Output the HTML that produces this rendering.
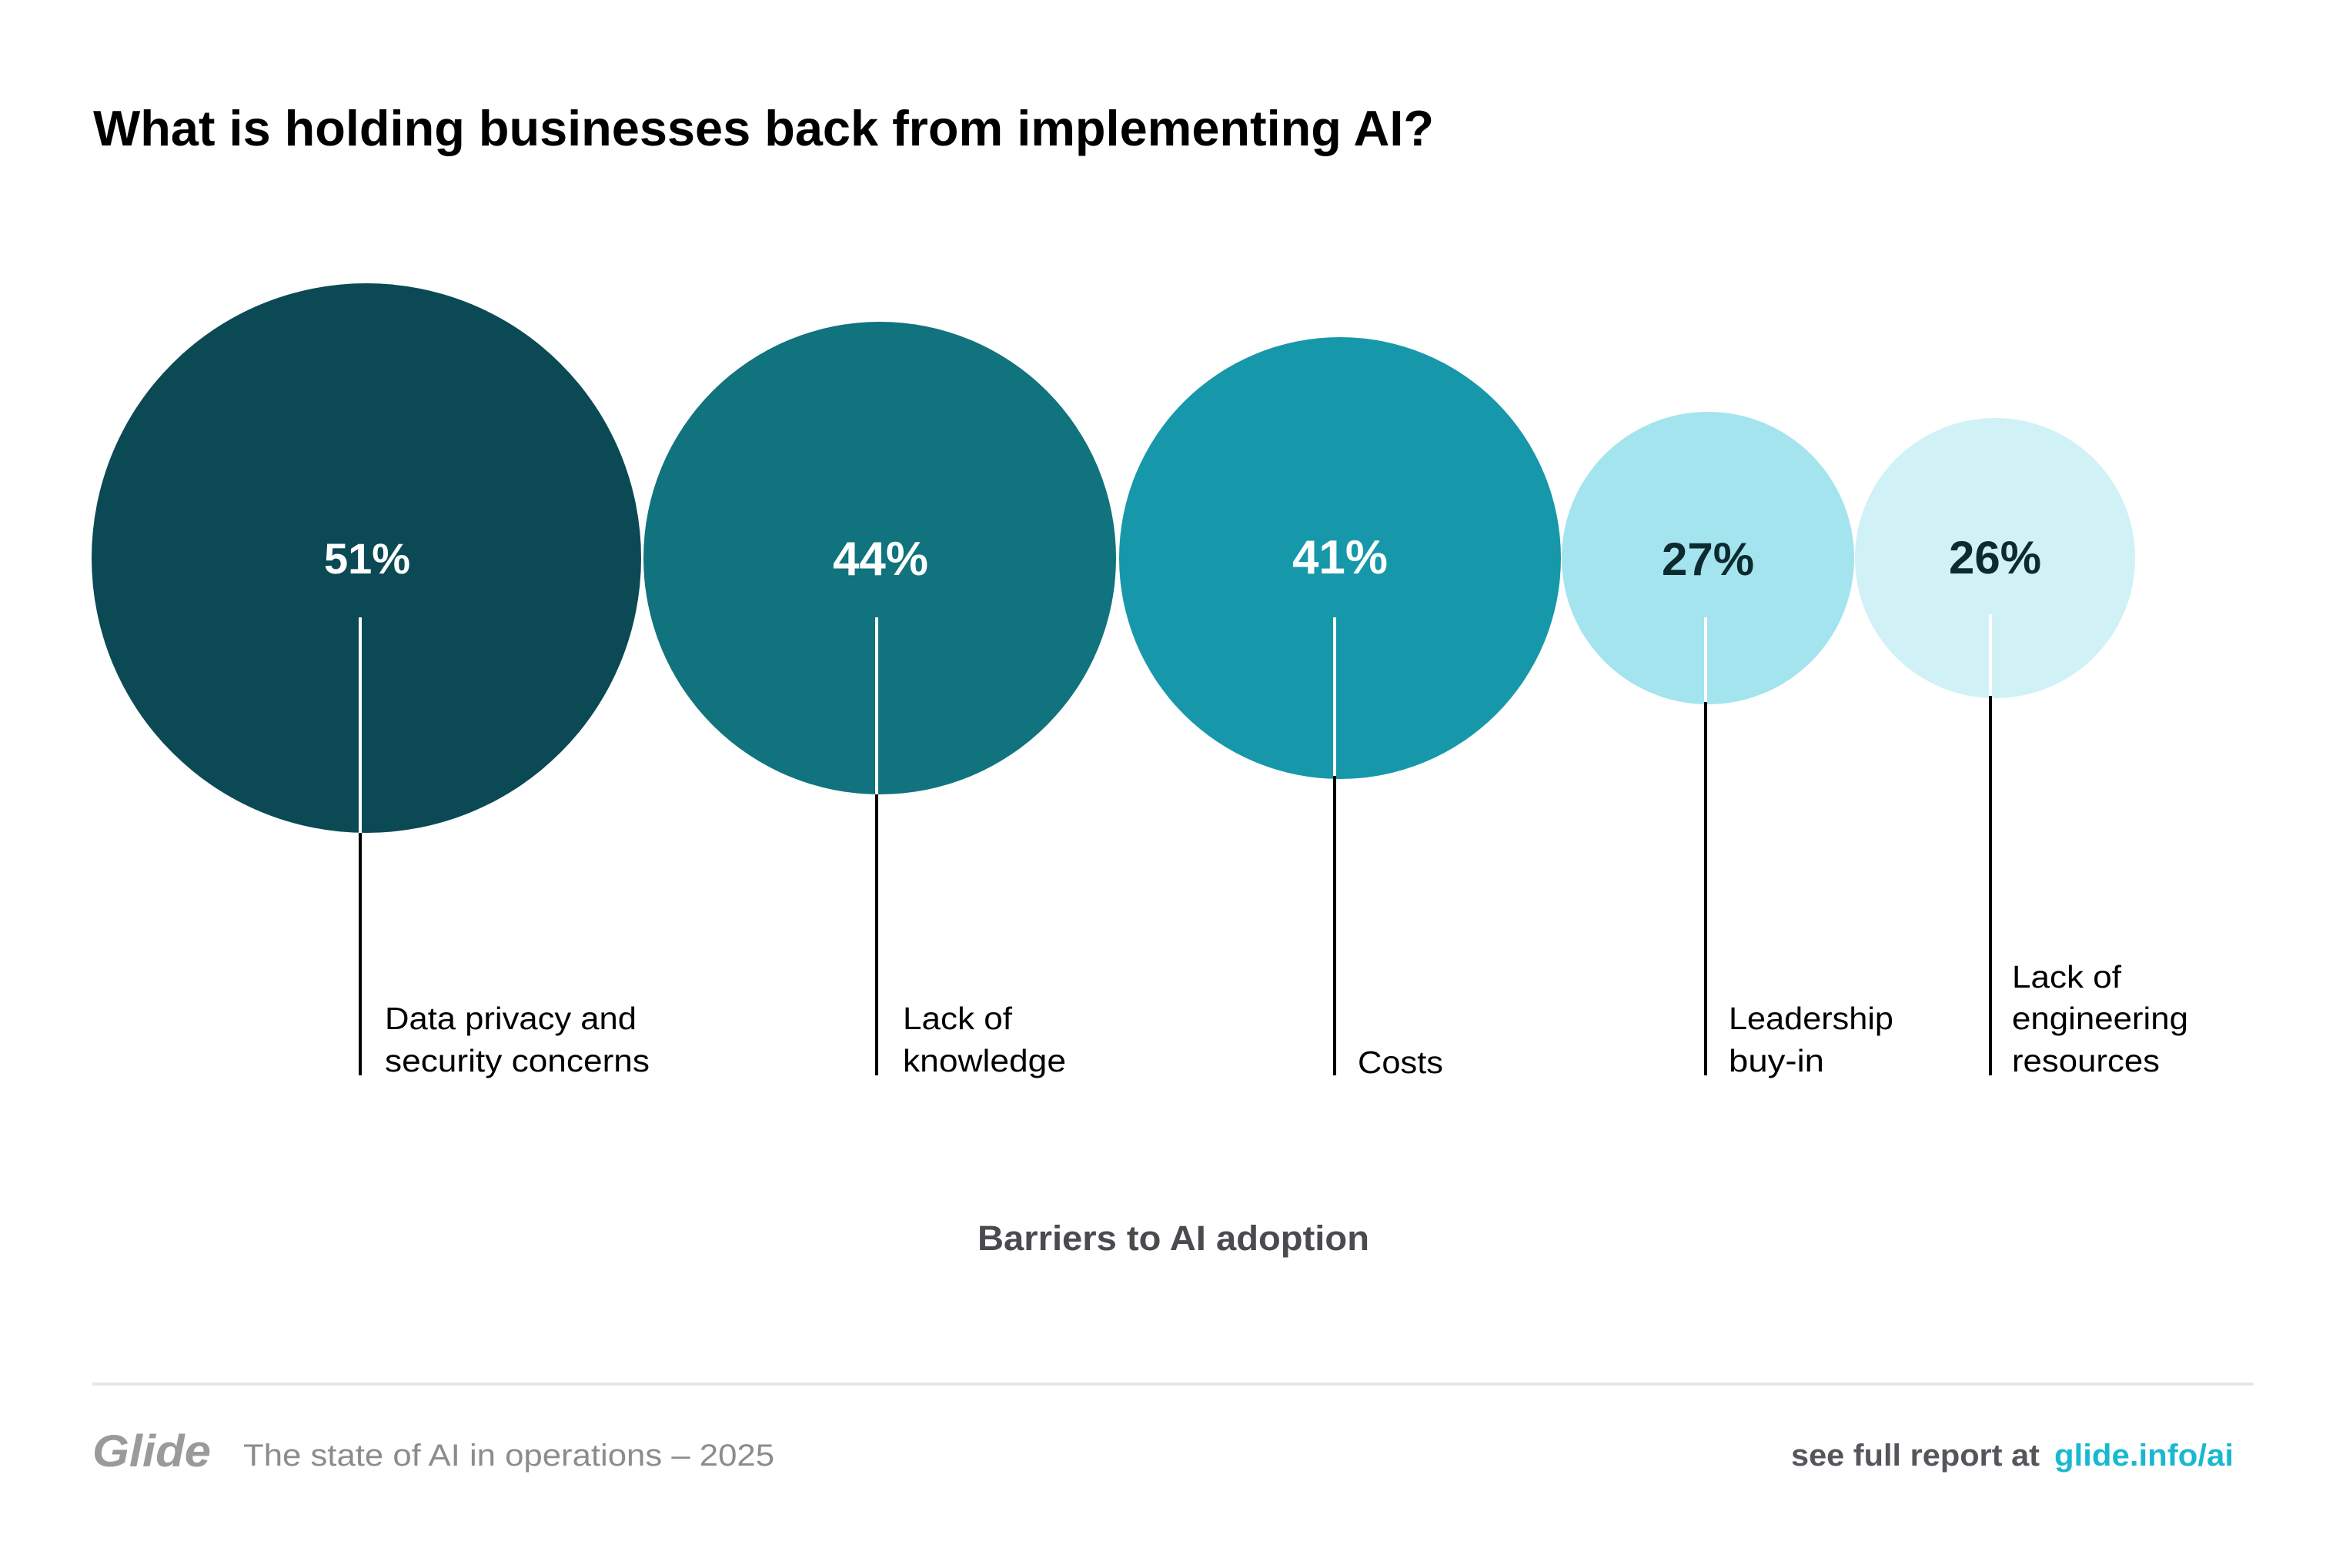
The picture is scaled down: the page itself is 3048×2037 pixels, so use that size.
<!DOCTYPE html>
<html><head><meta charset="utf-8"><style>
html,body{margin:0;padding:0;background:#fff;}
svg{display:block;}
text{font-family:"Liberation Sans",sans-serif;}
</style></head><body>
<svg width="3048" height="2037" viewBox="0 0 3048 2037" xmlns="http://www.w3.org/2000/svg">
<rect width="3048" height="2037" fill="#fff"/>
<text x="121" y="189" font-size="65" font-weight="bold" fill="#000" textLength="1742" lengthAdjust="spacingAndGlyphs">What is holding businesses back from implementing AI?</text>

<circle cx="476" cy="725" r="357" fill="#0b4a55"/>
<circle cx="1143" cy="725" r="307" fill="#10737d"/>
<circle cx="1741" cy="725" r="287" fill="#1698aa"/>
<circle cx="2219" cy="725" r="190" fill="#a3e4ee"/>
<circle cx="2592" cy="725" r="182" fill="#d0f1f6"/>

<g stroke-width="4">
<line x1="468" y1="802" x2="468" y2="1082" stroke="#fff"/>
<line x1="468" y1="1082" x2="468" y2="1397" stroke="#000"/>
<line x1="1139" y1="802" x2="1139" y2="1032" stroke="#fff"/>
<line x1="1139" y1="1032" x2="1139" y2="1397" stroke="#000"/>
<line x1="1734" y1="802" x2="1734" y2="1008" stroke="#fff"/>
<line x1="1734" y1="1008" x2="1734" y2="1397" stroke="#000"/>
<line x1="2216" y1="802" x2="2216" y2="912" stroke="#fff"/>
<line x1="2216" y1="912" x2="2216" y2="1397" stroke="#000"/>
<line x1="2586" y1="798" x2="2586" y2="904" stroke="#fff"/>
<line x1="2586" y1="904" x2="2586" y2="1397" stroke="#000"/>
</g>

<g font-weight="bold" text-anchor="middle">
<text x="477" y="745" font-size="56" fill="#fff">51%</text>
<text x="1144" y="747" font-size="62" fill="#fff">44%</text>
<text x="1741" y="745" font-size="62" fill="#fff">41%</text>
<text x="2219" y="747" font-size="60" fill="#0d2a30">27%</text>
<text x="2592" y="745" font-size="60" fill="#0d2a30">26%</text>
</g>

<g font-size="41" fill="#000">
<text x="500" y="1337" textLength="327" lengthAdjust="spacingAndGlyphs">Data privacy and</text>
<text x="500" y="1392" textLength="344" lengthAdjust="spacingAndGlyphs">security concerns</text>
<text x="1173" y="1337" textLength="142" lengthAdjust="spacingAndGlyphs">Lack of</text>
<text x="1173" y="1392" textLength="212" lengthAdjust="spacingAndGlyphs">knowledge</text>
<text x="1764" y="1394" textLength="111" lengthAdjust="spacingAndGlyphs">Costs</text>
<text x="2246" y="1337" textLength="214" lengthAdjust="spacingAndGlyphs">Leadership</text>
<text x="2246" y="1392" textLength="124" lengthAdjust="spacingAndGlyphs">buy-in</text>
<text x="2614" y="1283" textLength="142" lengthAdjust="spacingAndGlyphs">Lack of</text>
<text x="2614" y="1337" textLength="229" lengthAdjust="spacingAndGlyphs">engineering</text>
<text x="2614" y="1392" textLength="192" lengthAdjust="spacingAndGlyphs">resources</text>
</g>

<text x="1270" y="1624" font-size="45" font-weight="bold" fill="#4a4a4f" textLength="509" lengthAdjust="spacingAndGlyphs">Barriers to AI adoption</text>

<rect x="120" y="1796" width="2808" height="4" fill="#e6e6e6"/>

<text x="120" y="1905" font-size="58" font-weight="bold" font-style="italic" fill="#9a9a9a" textLength="154" lengthAdjust="spacingAndGlyphs">Glide</text>
<text x="316" y="1904" font-size="40" fill="#8c8c8c" textLength="690" lengthAdjust="spacingAndGlyphs">The state of AI in operations – 2025</text>
<text x="2327" y="1904" font-size="40" font-weight="bold" fill="#55565c" textLength="323" lengthAdjust="spacingAndGlyphs">see full report at</text>
<text x="2669" y="1904" font-size="40" font-weight="bold" fill="#1ab8d0" textLength="233" lengthAdjust="spacingAndGlyphs">glide.info/ai</text>
</svg>
</body></html>
